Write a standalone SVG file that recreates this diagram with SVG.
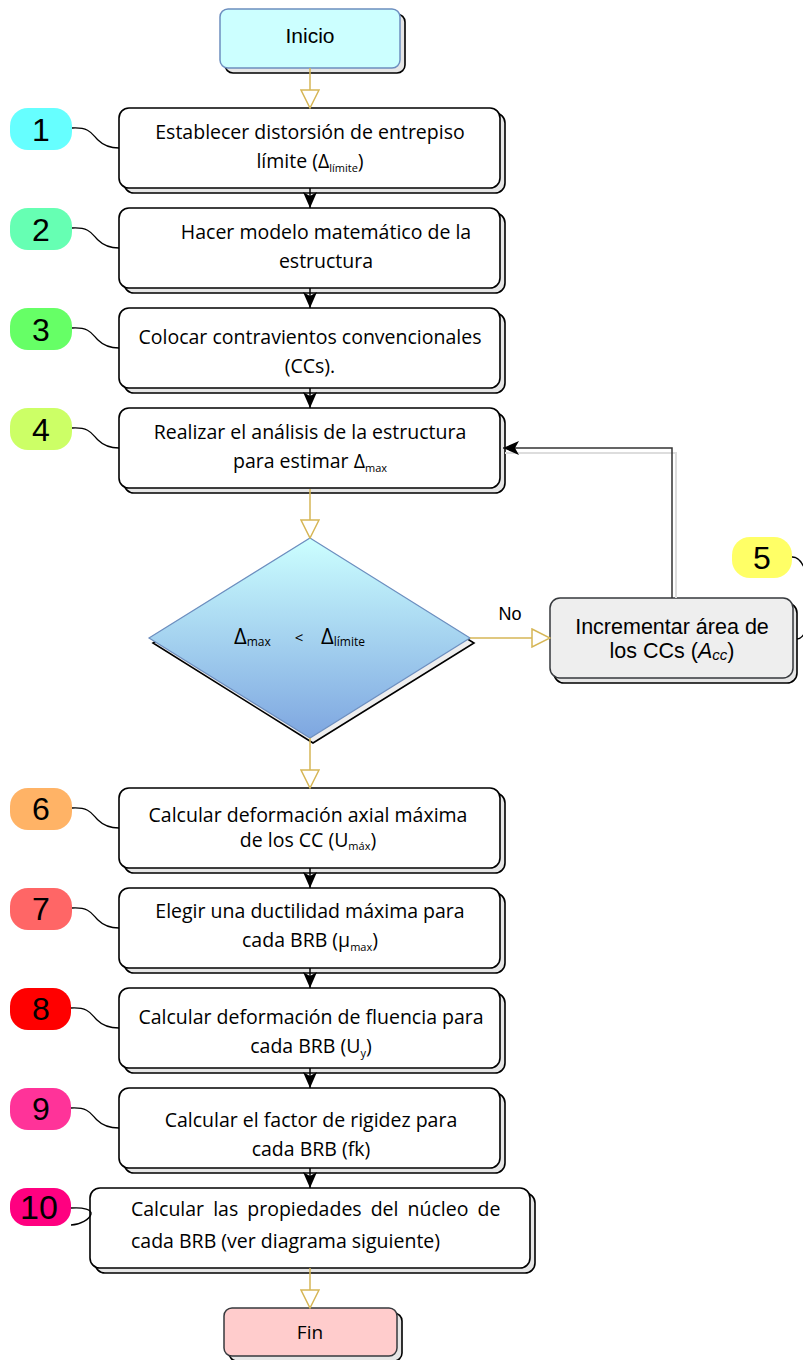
<svg xmlns="http://www.w3.org/2000/svg" width="803" height="1360" viewBox="0 0 803 1360">
<style>
.bx{fill:#ffffff;stroke:#000;stroke-width:1.6}
.sh{fill:#e6e6e6;stroke:#000;stroke-width:1.6}
.t{font-family:"Open Sans","Noto Sans",sans-serif;font-size:19.5px;fill:#000;text-anchor:middle}
.sub{font-size:11px}
.bd{stroke:none}
.num{font-family:"Liberation Sans",Arial,sans-serif;font-size:32px;fill:#000;text-anchor:middle}
.gold{stroke:#d6b656;stroke-width:1.5;fill:none}
.blk{stroke:#000;stroke-width:1.5;fill:none}
.crv{stroke:#000;stroke-width:1.3;fill:none}
.dt{font-family:"Open Sans","Noto Sans",sans-serif;font-size:22px;fill:#000}
</style>
<defs>
<marker id="mg" markerUnits="userSpaceOnUse" viewBox="0 0 20 20" markerWidth="20" markerHeight="20" refX="19" refY="10" orient="auto">
<path d="M1,1 L19,10 L1,19 z" fill="#ffffff" stroke="#d6b656" stroke-width="1.5"/>
</marker>
<marker id="mb" markerUnits="userSpaceOnUse" viewBox="0 0 16 14" markerWidth="16" markerHeight="14" refX="16" refY="7" orient="auto">
<path d="M0,0 L16,7 L0,14 L4,7 z" fill="#000"/>
</marker>
<linearGradient id="dg" x1="0" y1="0" x2="0" y2="1">
<stop offset="0" stop-color="#ccffff"/>
<stop offset="1" stop-color="#7ea6e0"/>
</linearGradient>
</defs>

<g id="inicio">
<rect x="225" y="14" width="180" height="59" rx="8" class="sh"/>
<rect x="220" y="9" width="180" height="59" rx="8" fill="#ccffff" stroke="#6c8ebf" stroke-width="1.5"/>
<text x="310" y="43" font-family="Liberation Sans,Arial,sans-serif" font-size="21" text-anchor="middle">Inicio</text>
</g>

<g id="step1">
<rect x="124" y="113" width="381" height="80" rx="10" class="sh"/>
<rect x="119" y="108" width="381" height="80" rx="10" class="bx"/>
<text class="t" x="310" y="139">Establecer distorsión de entrepiso</text>
<text class="t" x="310" y="168">límite (Δ<tspan class="sub" dy="4">límite</tspan><tspan dy="-4">)</tspan></text>
</g>
<g id="step2">
<rect x="124" y="213" width="381" height="80" rx="10" class="sh"/>
<rect x="119" y="208" width="381" height="80" rx="10" class="bx"/>
<text class="t" x="326" y="239">Hacer modelo matemático de la</text>
<text class="t" x="326" y="268">estructura</text>
</g>
<g id="step3">
<rect x="124" y="313" width="381" height="80" rx="10" class="sh"/>
<rect x="119" y="308" width="381" height="80" rx="10" class="bx"/>
<text class="t" x="310" y="344">Colocar contravientos convencionales</text>
<text class="t" x="310" y="373">(CCs).</text>
</g>
<g id="step4">
<rect x="124" y="413" width="381" height="80" rx="10" class="sh"/>
<rect x="119" y="408" width="381" height="80" rx="10" class="bx"/>
<text class="t" x="310" y="439">Realizar el análisis de la estructura</text>
<text class="t" x="310" y="468">para estimar Δ<tspan class="sub" dy="4">max</tspan></text>
</g>

<g id="decision">
<polygon points="313,543 474,643 313,743 153,643" fill="#eeeeee" stroke="#000" stroke-width="1.6"/>
<polygon points="310,538 470,638 310,738 149,638" fill="url(#dg)" stroke="#6c8ebf" stroke-width="1.2"/>
<text class="dt" x="234" y="644">Δ<tspan class="sub" style="font-size:12px" dy="2">max</tspan></text>
<text class="dt" x="299" y="643" style="font-size:15px" text-anchor="middle">&lt;</text>
<text class="dt" x="321" y="644">Δ<tspan class="sub" style="font-size:12px" dy="2">límite</tspan></text>
</g>

<g id="step5">
<rect x="554" y="603" width="243" height="80" rx="10" fill="#e6e6e6" stroke="#000" stroke-width="1.6"/>
<rect x="550" y="598" width="243" height="80" rx="10" fill="#eeeeee" stroke="#36393d" stroke-width="1.5"/>
<text x="672" y="634" font-family="Liberation Sans,Arial,sans-serif" font-size="21.5" text-anchor="middle">Incrementar área de</text>
<text x="672" y="658" font-family="Liberation Sans,Arial,sans-serif" font-size="21.5" text-anchor="middle">los CCs (<tspan font-style="italic">A</tspan><tspan font-style="italic" font-size="15" dy="2">cc</tspan><tspan dy="-2">)</tspan></text>
</g>

<g id="step6">
<rect x="124" y="793" width="381" height="80" rx="10" class="sh"/>
<rect x="119" y="788" width="381" height="80" rx="10" class="bx"/>
<text class="t" x="308" y="822">Calcular deformación axial máxima</text>
<text class="t" x="308" y="847">de los CC (U<tspan class="sub" dy="3">máx</tspan><tspan dy="-3">)</tspan></text>
</g>
<g id="step7">
<rect x="124" y="893" width="381" height="80" rx="10" class="sh"/>
<rect x="119" y="888" width="381" height="80" rx="10" class="bx"/>
<text class="t" x="310" y="918">Elegir una ductilidad máxima para</text>
<text class="t" x="310" y="947">cada BRB (μ<tspan class="sub" dy="4">max</tspan><tspan dy="-4">)</tspan></text>
</g>
<g id="step8">
<rect x="124" y="993" width="381" height="80" rx="10" class="sh"/>
<rect x="119" y="988" width="381" height="80" rx="10" class="bx"/>
<text class="t" x="311" y="1024">Calcular deformación de fluencia para</text>
<text class="t" x="311" y="1053">cada BRB (U<tspan class="sub" dy="4">y</tspan><tspan dy="-4">)</tspan></text>
</g>
<g id="step9">
<rect x="124" y="1093" width="381" height="80" rx="10" class="sh"/>
<rect x="119" y="1088" width="381" height="80" rx="10" class="bx"/>
<text class="t" x="311" y="1127">Calcular el factor de rigidez para</text>
<text class="t" x="311" y="1156">cada BRB (fk)</text>
</g>
<g id="step10">
<rect x="95" y="1193" width="440" height="80" rx="10" class="sh"/>
<rect x="90" y="1188" width="440" height="80" rx="10" class="bx"/>
<text class="t" x="131" y="1216" style="text-anchor:start;word-spacing:4px">Calcular las propiedades del núcleo de</text>
<text class="t" x="131" y="1248" style="text-anchor:start">cada BRB (ver diagrama siguiente)</text>
</g>

<g id="fin">
<rect x="229" y="1313" width="173" height="48" rx="8" class="sh"/>
<rect x="224" y="1308" width="173" height="48" rx="8" fill="#ffcccc" stroke="#36393d" stroke-width="1.5"/>
<text class="t" x="310" y="1339" style="font-size:19px">Fin</text>
</g>

<g id="badges">
<g id="b1"><rect x="10" y="108" width="62" height="42" rx="18" fill="#66ffff" class="bd"/><text class="num" x="41" y="141">1</text></g>
<g id="b2"><rect x="10" y="208" width="62" height="42" rx="18" fill="#66ffb3" class="bd"/><text class="num" x="41" y="241">2</text></g>
<g id="b3"><rect x="10" y="308" width="62" height="42" rx="18" fill="#66ff66" class="bd"/><text class="num" x="41" y="341">3</text></g>
<g id="b4"><rect x="10" y="408" width="62" height="42" rx="18" fill="#ccff66" class="bd"/><text class="num" x="41" y="441">4</text></g>
<g id="b5"><rect x="732" y="537" width="60" height="41" rx="18" fill="#ffff66" class="bd"/><text class="num" x="762" y="569">5</text></g>
<g id="b6"><rect x="10" y="788" width="62" height="42" rx="18" fill="#ffb366" class="bd"/><text class="num" x="41" y="820">6</text></g>
<g id="b7"><rect x="10" y="888" width="62" height="42" rx="18" fill="#ff6666" class="bd"/><text class="num" x="41" y="920">7</text></g>
<g id="b8"><rect x="10" y="988" width="61" height="42" rx="18" fill="#ff0000" class="bd"/><text class="num" x="41" y="1020">8</text></g>
<g id="b9"><rect x="10" y="1088" width="61" height="42" rx="18" fill="#ff3399" class="bd"/><text class="num" x="41" y="1120">9</text></g>
<g id="b10"><rect x="10" y="1188" width="61" height="38" rx="17" fill="#ff0080" class="bd"/><text class="num" x="39" y="1219" style="font-size:34px">10</text></g>
</g>

<g id="connectors">
<line x1="310" y1="68" x2="310" y2="108" class="gold" marker-end="url(#mg)"/>
<line x1="310" y1="188" x2="310" y2="208" class="blk" marker-end="url(#mb)"/>
<line x1="310" y1="288" x2="310" y2="308" class="blk" marker-end="url(#mb)"/>
<line x1="310" y1="388" x2="310" y2="408" class="blk" marker-end="url(#mb)"/>
<line x1="310" y1="489" x2="310" y2="538" class="gold" marker-end="url(#mg)"/>
<line x1="470" y1="638" x2="550" y2="638" class="gold" marker-end="url(#mg)"/>
<text x="510" y="620" font-family="Liberation Sans,Arial,sans-serif" font-size="18" text-anchor="middle">No</text>
<polyline points="676,598 676,453 505,453" fill="none" stroke="#dddddd" stroke-width="2"/>
<polyline points="672,598 672,448 503,448" fill="none" stroke="#333333" stroke-width="1.5" marker-end="url(#mb)"/>
<line x1="310" y1="738" x2="310" y2="788" class="gold" marker-end="url(#mg)"/>
<line x1="310" y1="868" x2="310" y2="888" class="blk" marker-end="url(#mb)"/>
<line x1="310" y1="968" x2="310" y2="988" class="blk" marker-end="url(#mb)"/>
<line x1="310" y1="1068" x2="310" y2="1088" class="blk" marker-end="url(#mb)"/>
<line x1="310" y1="1168" x2="310" y2="1188" class="blk" marker-end="url(#mb)"/>
<line x1="310" y1="1268" x2="310" y2="1308" class="gold" marker-end="url(#mg)"/>
<path class="crv" d="M72,128 C90,127 92,134 98,140 C104,146 110,148 119,148"/>
<path class="crv" d="M72,228 C90,227 92,234 98,240 C104,246 110,248 119,248"/>
<path class="crv" d="M72,328 C90,327 92,334 98,340 C104,346 110,348 119,348"/>
<path class="crv" d="M72,428 C90,427 92,434 98,440 C104,446 110,448 119,448"/>
<path class="crv" d="M792,557 C814,556 816,638 797,639"/>
<path class="crv" d="M72,808 C90,807 92,814 98,820 C104,826 110,828 119,828"/>
<path class="crv" d="M72,908 C90,907 92,914 98,920 C104,926 110,928 119,928"/>
<path class="crv" d="M71,1008 C89,1007 91,1014 97,1020 C103,1026 109,1028 119,1028"/>
<path class="crv" d="M71,1108 C89,1107 91,1114 97,1120 C103,1126 109,1128 119,1128"/>
<path class="crv" d="M71,1208 C84,1207 92,1210 91,1214 C90,1219 80,1225 71,1225"/>
</g>
</svg>
